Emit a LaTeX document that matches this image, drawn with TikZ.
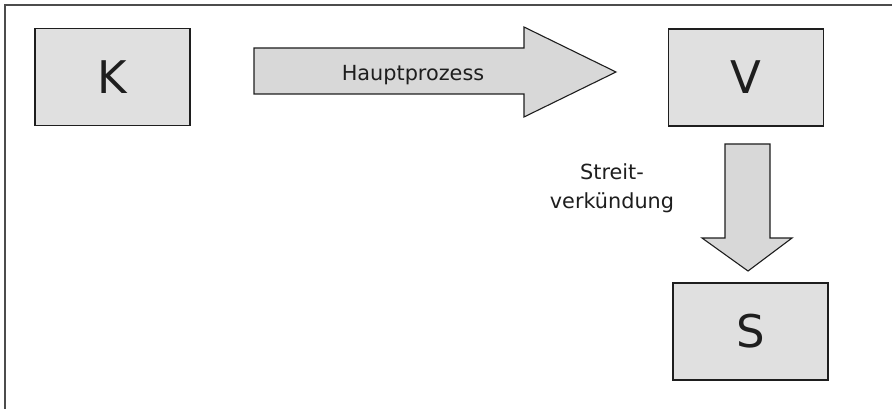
\documentclass[tikz,border=0pt]{standalone}
\usepackage{fontspec}
\setmainfont{DejaVu Sans}
\definecolor{boxgray}{RGB}{224,224,224}
\definecolor{arrowgray}{RGB}{216,216,216}
\definecolor{inkgray}{RGB}{30,30,30}
\begin{document}
\begin{tikzpicture}[x=1pt,y=-1pt,
  box/.style={draw=inkgray,fill=boxgray,line width=1.1pt,minimum width=155pt,minimum height=97pt,
    inner sep=0pt,text=inkgray,font=\fontsize{45}{50}\selectfont},
  blockarrow/.style={draw=inkgray,fill=arrowgray,line width=1.1pt,line join=miter},
  lbl/.style={text=inkgray,align=center,inner sep=0pt,font=\fontsize{20.8}{29}\selectfont}]
\useasboundingbox (0,0) rectangle (892,409);
% Frame
\draw[line width=1.3pt,black!70] (5,409) |- (892,5);

% Parties
\node[box] (K) at (112.5,77) {K};
\node[box] (V) at (746,77.5) {V};
\node[box] (S) at (750.5,331.5) {S};

% Main process arrow
\draw[blockarrow] (254,48) -- (524,48) -- (524,27) -- (616,72) -- (524,117) -- (524,94) -- (254,94) -- cycle;
\node[lbl,anchor=base] (haupt) at (413,81) {Hauptprozess};

% Third-party notice arrow
\draw[blockarrow] (725,144) -- (770,144) -- (770,238) -- (792,238) -- (748,271) -- (702,238) -- (725,238) -- cycle;
\node[lbl,anchor=base] (streit) at (612,208) {Streit-\\verkündung};
\end{tikzpicture}
\end{document}
